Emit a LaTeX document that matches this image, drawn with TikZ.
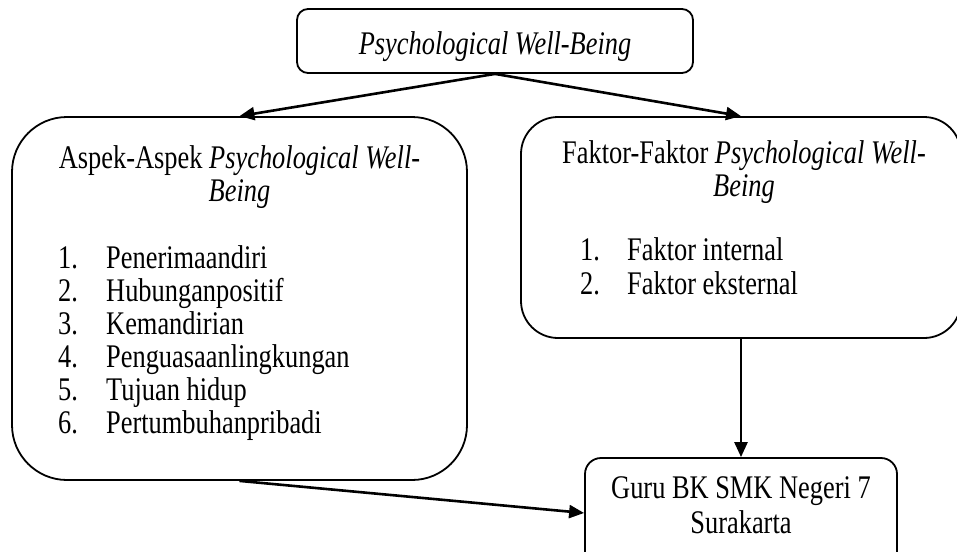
\documentclass[tikz,border=0pt]{standalone}
\usepackage{fontspec}
\setmainfont[FakeStretch=0.8]{Liberation Serif}
\usetikzlibrary{arrows.meta}
\tikzset{
  box/.style={draw, line width=1.8pt, inner sep=0pt},
  conn/.style={line width=2.6pt, -{Triangle[length=15pt,width=13pt]}},
  txt/.style={inner sep=0pt, anchor=base},
  lst/.style={inner sep=0pt, anchor=base west},
}
\newcommand{\pwbtext}{\textit{Psychological Well-Being}}

\begin{document}
\begin{tikzpicture}[x=1pt,y=-1pt]
        \useasboundingbox (0,0) rectangle (957,551);
        \fontsize{33}{33}\selectfont

        \node (P) [box, rounded corners=11pt, minimum width=396pt, minimum height=64pt] at (495,41) {};
        \node (A) [box, rounded corners=55pt, minimum width=455pt, minimum height=363pt] at (239.5,298.5) {};
        \node (F) [box, rounded corners=37pt, minimum width=440pt, minimum height=221pt] at (741,227.5) {};
        \node (G) [box, rounded corners=16pt, minimum width=312pt, minimum height=110pt] at (741,513) {};

        \node (PT) [txt] at (495,54) {\pwbtext};

        \node (AT) [txt] at (239.5,168) {\begin{tabular}[t]{@{}c@{}}
                Aspek-Aspek \textit{Psychological Well-}\\ \textit{Being}
        \end{tabular}};
        \node (AL) [lst] at (58,268) {\begin{tabular}[t]{@{}p{48pt}@{}l@{}}
                1. & Penerimaandiri\\
                2. & Hubunganpositif\\
                3. & Kemandirian\\
                4. & Penguasaanlingkungan\\
                5. & Tujuan hidup\\
                6. & Pertumbuhanpribadi
        \end{tabular}};

        \node (FT) [txt] at (744,163) {\begin{tabular}[t]{@{}c@{}}
                Faktor-Faktor \textit{Psychological Well-}\\ \textit{Being}
        \end{tabular}};
        \node (FL) [lst] at (580,260) {\fontsize{33}{34.5}\selectfont
                \begin{tabular}[t]{@{}p{47pt}@{}l@{}}
                1. & Faktor internal\\
                2. & Faktor eksternal
        \end{tabular}};

        \node (GT) [txt] at (741,498) {\fontsize{33}{35}\selectfont
                \begin{tabular}[t]{@{}c@{}}
                Guru BK SMK Negeri 7\\ Surakarta
        \end{tabular}};

        \draw [conn] (P.south) -- (A.north);
        \draw [conn] (P.south) -- (F.north);
        \draw [conn] (F.south) -- (F.south |- G.north);
        \draw [conn] (A.south) -- (G.west);
\end{tikzpicture}
\end{document}
